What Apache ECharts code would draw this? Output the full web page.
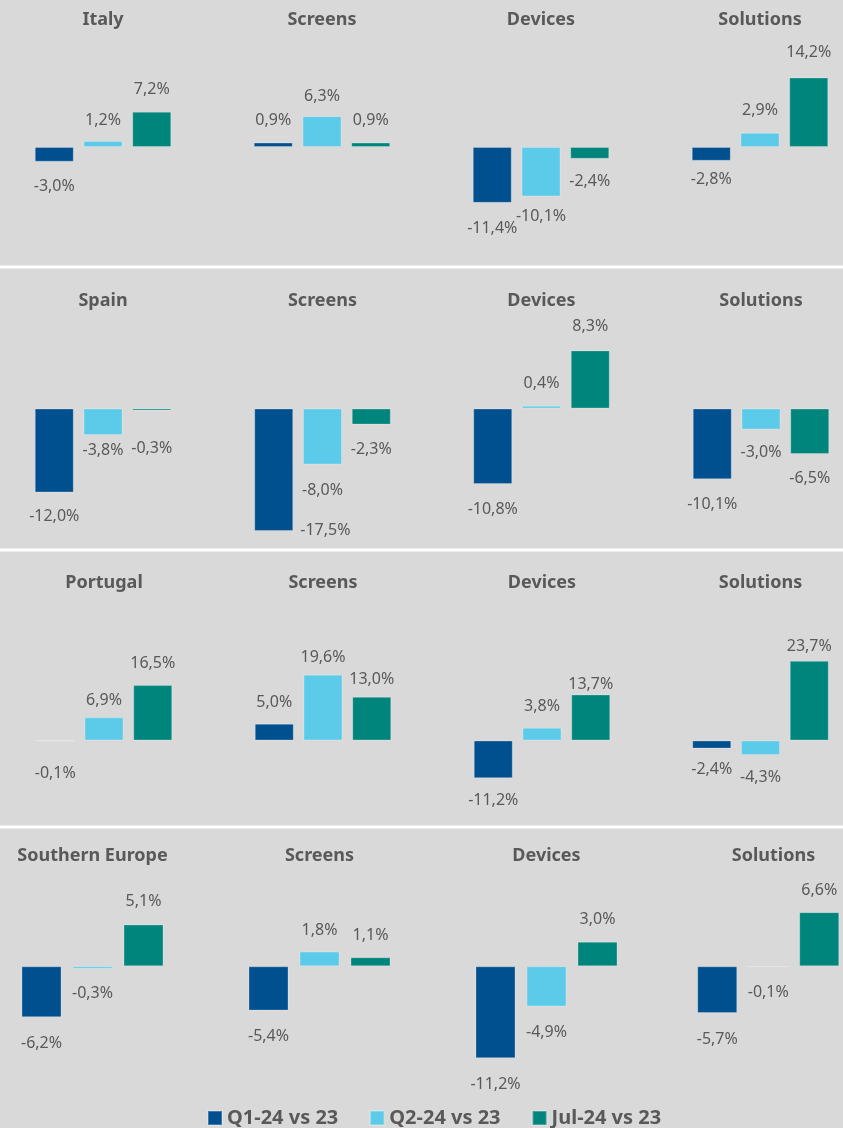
<!DOCTYPE html>
<html>
<head>
<meta charset="utf-8">
<script src="https://cdn.jsdelivr.net/npm/echarts@6/dist/echarts.min.js"></script>
<style>
  html, body { margin: 0; padding: 0; background: #d9d9d9; }
  #chart { width: 843px; height: 1128px; }
</style>
</head>
<body>
<div id="chart"></div>
<script>
const names = ["Q1-24 vs 23", "Q2-24 vs 23", "Jul-24 vs 23"];
const colors = ["#004F8F", "#5BCBE9", "#00857D"];
const textColor = "#595959";
const font = "'Noto Sans', 'Open Sans', sans-serif";

// one row per market, each with its own scale; dist = gap from bar end to label
const rows = [
  {
    min: -15, max: 15, top: 73.5, height: 147, titleY: 20, barWidth: 39, barGap: "25%",
    panels: [
      { title: "Italy", center: 103, values: [-3.0, 1.2, 7.2], dist: [17, 13, 14] },
      { title: "Screens", center: 322, values: [0.9, 6.3, 0.9], dist: [14, 12, 14] },
      { title: "Devices", center: 541, values: [-11.4, -10.1, -2.4], dist: [18, 12, 15] },
      { title: "Solutions", center: 760, values: [-2.8, 2.9, 14.2], dist: [11, 14, 17] }
    ]
  },
  {
    min: -20, max: 10, top: 338.5, height: 210, titleY: 301, barWidth: 39, barGap: "25%",
    panels: [
      { title: "Spain", center: 103, values: [-12.0, -3.8, -0.3], dist: [16, 7, 30] },
      { title: "Screens", center: 322.5, values: [-17.5, -8.0, -2.3], dist: ["side", 18, 17] },
      { title: "Devices", center: 541.5, values: [-10.8, 0.4, 8.3], dist: [17, 14, 16] },
      { title: "Solutions", center: 761, values: [-10.1, -3.0, -6.5], dist: [17, 15, 16] }
    ]
  },
  {
    min: -15, max: 25, top: 656.5, height: 134.4, titleY: 583, barWidth: 39, barGap: "25%",
    panels: [
      { title: "Portugal", center: 104, values: [-0.1, 6.9, 16.5], dist: [24, 9, 14] },
      { title: "Screens", center: 323, values: [5.0, 19.6, 13.0], dist: [13, 9, 9] },
      { title: "Devices", center: 542, values: [-11.2, 3.8, 13.7], dist: [14, 13, 2] },
      { title: "Solutions", center: 760.5, values: [-2.4, -4.3, 23.7], dist: [13, 14, 6] }
    ]
  },
  {
    min: -12, max: 8, top: 900.7, height: 164, titleY: 856, barWidth: 40, barGap: "27.5%",
    panels: [
      { title: "Southern Europe", center: 92.5, values: [-6.2, -0.3, 5.1], dist: [18, 17, 15] },
      { title: "Screens", center: 319.5, values: [-5.4, 1.8, 1.1], dist: [18, 13, 14] },
      { title: "Devices", center: 546.5, values: [-11.2, -4.9, 3.0], dist: [18, 18, 14] },
      { title: "Solutions", center: 773.5, values: [-5.7, -0.1, 6.6], dist: [18, 17, 14] }
    ]
  }
];

const fmt = v => v.toFixed(1).replace(".", ",") + "%";

let grid = [];
let xAxis = [];
let yAxis = [];
let series = [];
let graphic = [];

rows.forEach(row => {
  row.panels.forEach(panel => {
    const idx = grid.length;
    grid.push({ left: panel.center - 80, width: 160, top: row.top, height: row.height });
    xAxis.push({ type: "category", gridIndex: idx, data: [""], show: false });
    yAxis.push({ type: "value", gridIndex: idx, min: row.min, max: row.max, show: false });
    graphic.push({
      type: "text",
      x: panel.center,
      y: row.titleY,
      style: {
        text: panel.title,
        fill: textColor,
        font: "bold 18px " + font,
        align: "center",
        verticalAlign: "middle"
      }
    });
    panel.values.forEach((v, k) => {
      const d = panel.dist[k];
      let label;
      if (d === "side") {
        label = { position: ["100%", "100%"], offset: [7, -1], align: "left", verticalAlign: "middle" };
      } else {
        label = { position: v >= 0 ? "top" : "bottom", distance: d };
      }
      series.push({
        type: "bar",
        name: names[k],
        xAxisIndex: idx,
        yAxisIndex: idx,
        barWidth: row.barWidth,
        barGap: row.barGap,
        itemStyle: { color: colors[k], borderColor: "rgba(255,255,255,0.25)", borderWidth: 1 },
        label: {
          show: true,
          color: textColor,
          fontSize: 16,
          fontFamily: font,
          formatter: p => fmt(p.value)
        },
        data: [{ value: v, label: label }]
      });
    });
  });
});

// white separators between the market rows
[265.5, 548.5, 825.5].forEach(y => {
  graphic.push({ type: "rect", shape: { x: 0, y: y, width: 843, height: 3 }, style: { fill: "#ffffff" } });
});

const chart = echarts.init(document.getElementById("chart"));
chart.setOption({
  backgroundColor: "#d9d9d9",
  animation: false,
  legend: {
    left: 207,
    top: 1108,
    padding: 0,
    icon: "rect",
    itemWidth: 14,
    itemHeight: 14,
    itemGap: 31,
    textStyle: { color: textColor, fontSize: 20, fontWeight: "bold", fontFamily: font },
    data: names
  },
  grid: grid,
  xAxis: xAxis,
  yAxis: yAxis,
  graphic: graphic,
  series: series
});
</script>
</body>
</html>
